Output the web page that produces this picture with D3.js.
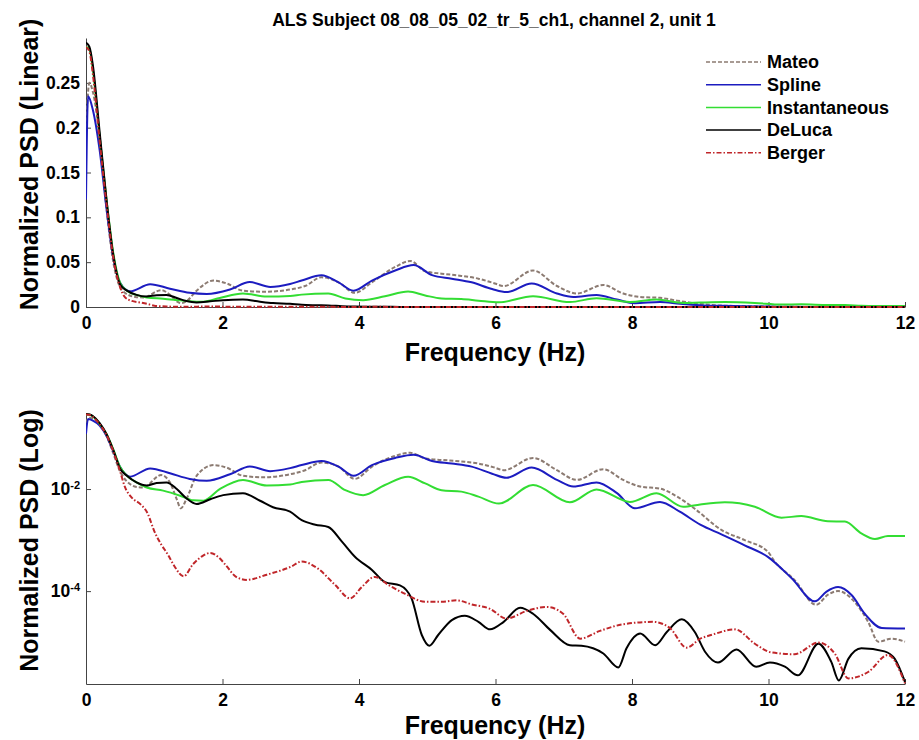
<!DOCTYPE html>
<html>
<head>
<meta charset="utf-8">
<script src="https://cdn.jsdelivr.net/npm/d3@7"></script>
<style>
  body { margin: 0; background: #fff; }
  svg { font-family: Arial, "Liberation Sans", sans-serif; font-weight: bold; }
</style>
</head>
<body>
<svg id="chart"></svg>
<script>
// PSD curves: [frequency Hz, normalized PSD]
const mateo = [[0,0.2],[0.05,0.25],[0.1,0.24],[0.2,0.19],[0.3,0.11],[0.4,0.05],[0.5,0.022],[0.55,0.017],[0.74,0.011],[0.84,0.0107],[1.1,0.0188],[1.23,0.0135],[1.33,0.0063],[1.39,0.0042],[1.47,0.0063],[1.62,0.0182],[1.87,0.0295],[2.06,0.0263],[2.3,0.0182],[2.6,0.017],[2.99,0.0195],[3.21,0.0234],[3.45,0.0331],[3.7,0.0275],[3.94,0.0158],[4.19,0.0275],[4.53,0.0447],[4.75,0.0513],[4.97,0.0398],[5.21,0.0372],[5.5,0.0347],[5.75,0.0316],[5.99,0.0263],[6.12,0.0234],[6.55,0.0407],[6.9,0.0234],[7.19,0.0151],[7.58,0.0245],[7.87,0.0151],[8.12,0.0112],[8.41,0.0102],[8.66,0.0071],[8.92,0.0041],[9.31,1.58e-3],[9.65,1.0e-3],[9.99,5.9e-4],[10.09,3.8e-4],[10.38,1.66e-4],[10.7,5.4e-5],[10.87,8.5e-5],[11.02,1.0e-4],[11.26,6.2e-5],[11.46,2.5e-5],[11.61,1.02e-5],[11.8,1.17e-5],[12,1.02e-5]];
const spline = [[0,0.12],[0.03,0.235],[0.1,0.22],[0.2,0.175],[0.3,0.11],[0.4,0.055],[0.5,0.027],[0.645,0.0175],[0.94,0.0254],[1.23,0.0204],[1.52,0.0158],[1.77,0.0145],[2.11,0.0195],[2.4,0.0278],[2.7,0.0224],[2.99,0.0257],[3.16,0.0295],[3.45,0.0355],[3.7,0.0275],[3.92,0.0182],[4.19,0.0295],[4.53,0.0407],[4.8,0.0468],[5.07,0.0355],[5.36,0.0316],[5.65,0.0275],[5.95,0.02],[6.16,0.0166],[6.53,0.0263],[6.9,0.0151],[7.14,0.0112],[7.48,0.0135],[7.78,0.0083],[8.04,0.0042],[8.41,0.0056],[8.7,0.0036],[9.0,0.002],[9.31,1.29e-3],[9.65,7.9e-4],[9.99,4.7e-4],[10.34,1.78e-4],[10.68,6.3e-5],[10.85,9.8e-5],[11.02,1.2e-4],[11.22,8.3e-5],[11.41,3.6e-5],[11.66,1.9e-5],[12,1.86e-5]];
const instantaneous = [[0,0.29],[0.05,0.288],[0.1,0.265],[0.2,0.19],[0.3,0.12],[0.4,0.06],[0.5,0.027],[0.6,0.0182],[0.74,0.0135],[0.89,0.0107],[1.13,0.0093],[1.38,0.0074],[1.57,0.006],[1.72,0.0059],[1.96,0.01],[2.3,0.0151],[2.65,0.0117],[2.99,0.0123],[3.16,0.0138],[3.55,0.0151],[3.8,0.0095],[4.06,0.0076],[4.38,0.012],[4.72,0.0174],[4.97,0.0129],[5.21,0.0095],[5.5,0.0089],[5.75,0.0071],[6.05,0.0052],[6.55,0.012],[7.09,0.0055],[7.48,0.0098],[7.97,0.0056],[8.36,0.0083],[8.75,0.0045],[9.0,0.005],[9.36,0.0055],[9.8,0.0045],[10.19,0.00275],[10.48,0.00295],[10.87,0.00234],[11.12,0.0023],[11.36,0.00135],[11.56,0.00105],[11.75,0.0012],[12,0.0012]];
const deluca = [[0,0.295],[0.05,0.29],[0.1,0.27],[0.2,0.195],[0.3,0.12],[0.4,0.058],[0.5,0.025],[0.6,0.0182],[0.74,0.0135],[0.89,0.0117],[1.035,0.0132],[1.18,0.0135],[1.33,0.01],[1.47,0.0066],[1.62,0.0051],[1.82,0.0063],[2.01,0.0076],[2.3,0.0083],[2.55,0.0059],[2.74,0.0044],[2.99,0.0036],[3.16,0.00245],[3.36,0.002],[3.55,0.0018],[3.75,9.3e-4],[3.94,4.7e-4],[4.19,2.6e-4],[4.38,1.5e-4],[4.6,1.3e-4],[4.77,7.2e-5],[4.92,1.38e-5],[5.03,8.5e-6],[5.16,1.38e-5],[5.36,2.7e-5],[5.55,3.3e-5],[5.75,2.5e-5],[5.92,1.78e-5],[6.12,2.5e-5],[6.36,4.7e-5],[6.55,3.6e-5],[6.8,1.74e-5],[7.09,8.7e-6],[7.26,8.5e-6],[7.58,6.0e-6],[7.8,3.2e-6],[7.92,7.6e-6],[8.12,1.48e-5],[8.34,8.7e-6],[8.51,1.58e-5],[8.73,2.8e-5],[8.92,1.58e-5],[9.07,6.5e-6],[9.26,4.0e-6],[9.53,7.2e-6],[9.82,3.3e-6],[10.02,4.0e-6],[10.24,3.3e-6],[10.43,2.24e-6],[10.73,9.3e-6],[10.92,4.1e-6],[11.03,1.78e-6],[11.17,4.7e-6],[11.36,7.6e-6],[11.7,6.6e-6],[11.85,4.7e-6],[12,1.66e-6]];
const berger = [[0,0.29],[0.05,0.285],[0.1,0.26],[0.2,0.185],[0.3,0.115],[0.4,0.055],[0.5,0.022],[0.57,0.011],[0.67,0.0068],[0.8,0.005],[0.9,0.0034],[1.0,0.0015],[1.1,8.3e-4],[1.2,5.2e-4],[1.3,3.0e-4],[1.43,1.95e-4],[1.57,3.4e-4],[1.7,4.8e-4],[1.82,5.6e-4],[1.95,4.5e-4],[2.05,3.2e-4],[2.2,1.9e-4],[2.35,1.66e-4],[2.65,2.1e-4],[3.0,3.0e-4],[3.16,3.8e-4],[3.4,2.75e-4],[3.65,1.32e-4],[3.87,7.2e-5],[4.04,1.2e-4],[4.23,1.9e-4],[4.43,1.32e-4],[4.67,8.9e-5],[4.97,6.2e-5],[5.21,6.2e-5],[5.43,6.6e-5],[5.65,5.5e-5],[5.92,4.5e-5],[6.16,2.9e-5],[6.46,4.1e-5],[6.75,4.9e-5],[6.99,3.6e-5],[7.24,1.17e-5],[7.53,1.66e-5],[7.87,2.24e-5],[8.31,2.5e-5],[8.56,1.86e-5],[8.8,7.8e-6],[9.0,1.17e-5],[9.16,1.38e-5],[9.51,1.78e-5],[9.8,9.3e-6],[10.04,6.3e-6],[10.38,5.8e-6],[10.73,9.8e-6],[10.97,6.0e-6],[11.17,1.95e-6],[11.46,2.6e-6],[11.75,5.6e-6],[12,1.55e-6]];

const seriesNames = ["Mateo", "Spline", "Instantaneous", "DeLuca", "Berger"];
const seriesData = [mateo, spline, instantaneous, deluca, berger];
const seriesColors = ["#8c7b72", "#1c1cc0", "#33dd33", "#000000", "#c0262a"];
const seriesDash = ["4,2", null, null, null, "5,2,1.5,2"];

const freqTicks = [0, 2, 4, 6, 8, 10, 12];
const linTicks = [0, 0.05, 0.1, 0.15, 0.2, 0.25];
const logTicks = [1e-4, 1e-2];

const title = "ALS Subject 08_08_05_02_tr_5_ch1, channel 2, unit 1";

var svgWidth = 919, svgHeight = 740;
var svg = d3.select("#chart").attr("width", svgWidth).attr("height", svgHeight);

var x = d3.scaleLinear().domain([0, 12]).range([86, 905]);
var yLin = d3.scaleLinear().domain([0, 0.3]).range([307, 38]);
var yLog = d3.scaleLog().domain([Math.pow(10, -5.82), Math.pow(10, -0.51)]).range([684, 413]);

svg.append("text")
  .attr("x", 494).attr("y", 20).attr("dy", "0.35em")
  .attr("text-anchor", "middle").attr("font-size", "17.5px")
  .text(title);

function drawPanel(y, yTicks, yLabel, labelY, clipId, isLog) {
  var top = y.range()[1], bottom = y.range()[0];

  svg.append("clipPath").attr("id", clipId)
    .append("rect").attr("x", 86).attr("y", top - 2).attr("width", 821).attr("height", bottom - top + 3);

  // x axis, ticks pointing inward
  var gx = svg.append("g")
    .attr("transform", "translate(0," + bottom + ")")
    .call(d3.axisBottom(x).tickValues(freqTicks).tickSizeInner(-5).tickSizeOuter(0).tickPadding(10));
  gx.selectAll("text").attr("font-size", "17.5px").attr("font-weight", "bold").attr("fill", "#000");

  // y axis
  var yAxis = d3.axisLeft(y).tickValues(yTicks).tickSizeInner(-5).tickSizeOuter(0).tickPadding(6);
  if (!isLog) yAxis.tickFormat(d => d === 0 ? "0" : String(+d.toFixed(2)));
  else yAxis.tickFormat(() => "");
  var gy = svg.append("g").attr("transform", "translate(86,0)").call(yAxis);
  gy.selectAll("text").attr("font-size", "17.5px").attr("font-weight", "bold").attr("fill", "#000");
  if (isLog) {
    gy.selectAll("text").each(function(d) {
      var t = d3.select(this);
      t.append("tspan").text("10");
      t.append("tspan").attr("dy", "-0.55em").attr("font-size", "11px")
        .text(String(Math.round(Math.log10(d))));
    });
  }
  svg.selectAll(".domain").attr("stroke", "#444");
  svg.selectAll(".tick line").attr("stroke", "#444");

  svg.append("text")
    .attr("x", 495).attr("y", labelY).attr("dy", "0.35em")
    .attr("text-anchor", "middle").attr("font-size", "25px")
    .text("Frequency (Hz)");

  svg.append("text")
    .attr("transform", "translate(29," + ((top + bottom) / 2 - 8) + ") rotate(-90)")
    .attr("dy", "0.35em")
    .attr("text-anchor", "middle").attr("font-size", "25px")
    .text(yLabel);

  var line = d3.line()
    .x(d => x(d[0]))
    .y(d => y(d[1]))
    .curve(d3.curveMonotoneX);

  var g = svg.append("g").attr("clip-path", "url(#" + clipId + ")");
  seriesData.forEach(function(data, i) {
    g.append("path")
      .datum(data)
      .attr("fill", "none")
      .attr("stroke", seriesColors[i])
      .attr("stroke-width", 2)
      .attr("stroke-linejoin", "round")
      .attr("stroke-dasharray", seriesDash[i])
      .attr("d", line);
  });
}

drawPanel(yLin, linTicks, "Normalized PSD (Linear)", 352, "clipLin", false);
drawPanel(yLog, logTicks, "Normalized PSD (Log)", 725, "clipLog", true);

// legend
var legend = svg.append("g");
seriesNames.forEach(function(name, i) {
  var ly = 62 + i * 22.7;
  legend.append("line")
    .attr("x1", 706).attr("x2", 761).attr("y1", ly).attr("y2", ly)
    .attr("stroke", seriesColors[i]).attr("stroke-width", 1.5)
    .attr("stroke-dasharray", seriesDash[i]);
  legend.append("text")
    .attr("x", 767).attr("y", ly).attr("dy", "0.35em")
    .attr("font-size", "18px")
    .text(name);
});
</script>
</body>
</html>
